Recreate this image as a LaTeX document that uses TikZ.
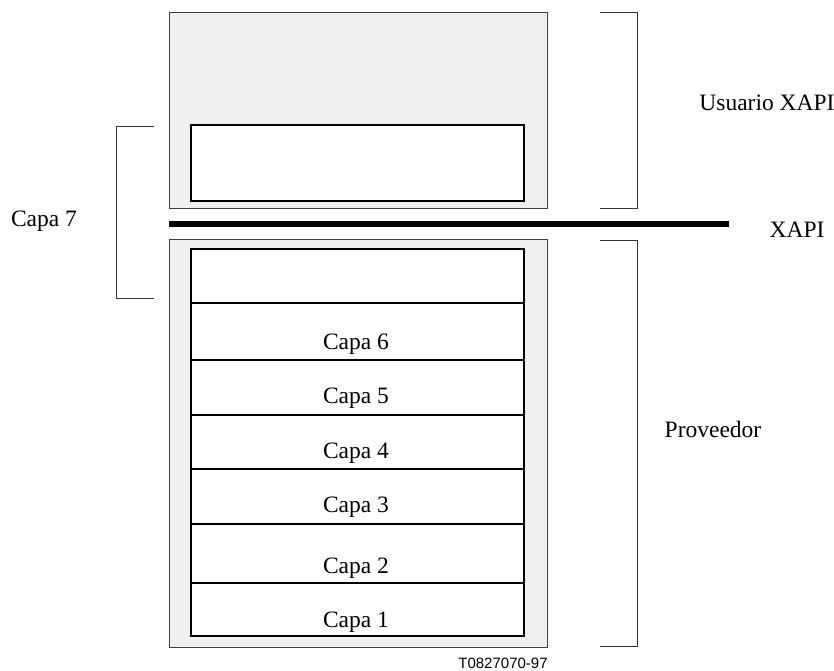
\documentclass[tikz,border=0pt]{standalone}
\usepackage{fontspec}
\setmainfont{Liberation Serif}
\newfontfamily\labelsans{Liberation Sans}
\begin{document}
\begin{tikzpicture}[x=1pt,y=-1pt,
  panel/.style={draw=black!75,fill=black!6,line width=1pt},
  layerbox/.style={draw=black,fill=white,line width=1.2pt},
  sep/.style={draw=black,line width=1.2pt},
  brace/.style={draw=black!80,line width=0.9pt},
  txt/.style={font=\fontsize{23.5}{28}\selectfont,inner sep=0pt,anchor=base},
  tag/.style={font=\labelsans\fontsize{15}{18}\selectfont,inner sep=0pt,anchor=base}]
  \useasboundingbox (0,0) rectangle (834,670);

  % upper panel (XAPI user) with its inner box
  \draw[panel] (169,12) rectangle (547,208);
  \draw[layerbox] (191,125) rectangle (524,201);

  % XAPI boundary
  \draw[line width=5.5pt] (169,224) -- (729,224);

  % lower panel (provider) with its stack of layers
  \draw[panel] (169,239) rectangle (547,647);
  \draw[layerbox] (191,249) rectangle (524,636);
  \foreach \yy in {303,360,415,469,524,583}
    \draw[sep] (191,\yy) -- (524,\yy);

  \node[txt] (c6) at (356,349) {Capa 6};
  \node[txt] (c5) at (356,403) {Capa 5};
  \node[txt] (c4) at (356,458) {Capa 4};
  \node[txt] (c3) at (356,512) {Capa 3};
  \node[txt] (c2) at (356,573) {Capa 2};
  \node[txt] (c1) at (356,627) {Capa 1};

  % brackets
  \coordinate (l1) at (154,126);
  \coordinate (l2) at (116,126);
  \coordinate (l3) at (116,298);
  \coordinate (l4) at (154,298);
  \draw[brace] (l1) -- (l2) -- (l3) -- (l4);

  \coordinate (u1) at (600,12);
  \coordinate (u2) at (637,12);
  \coordinate (u3) at (637,208);
  \coordinate (u4) at (600,208);
  \draw[brace] (u1) -- (u2) -- (u3) -- (u4);

  \coordinate (p1) at (600,240);
  \coordinate (p2) at (637,240);
  \coordinate (p3) at (637,646);
  \coordinate (p4) at (600,646);
  \draw[brace] (p1) -- (p2) -- (p3) -- (p4);

  % side labels
  \node[txt] (capa7) at (44,226) {Capa 7};
  \node[txt] (user) at (767,110) {Usuario XAPI};
  \node[txt] (xapi) at (797,237) {XAPI};
  \node[txt] (prov) at (713,437) {Proveedor};
  \node[tag] (ref) at (503,668) {T0827070-97};
\end{tikzpicture}
\end{document}
